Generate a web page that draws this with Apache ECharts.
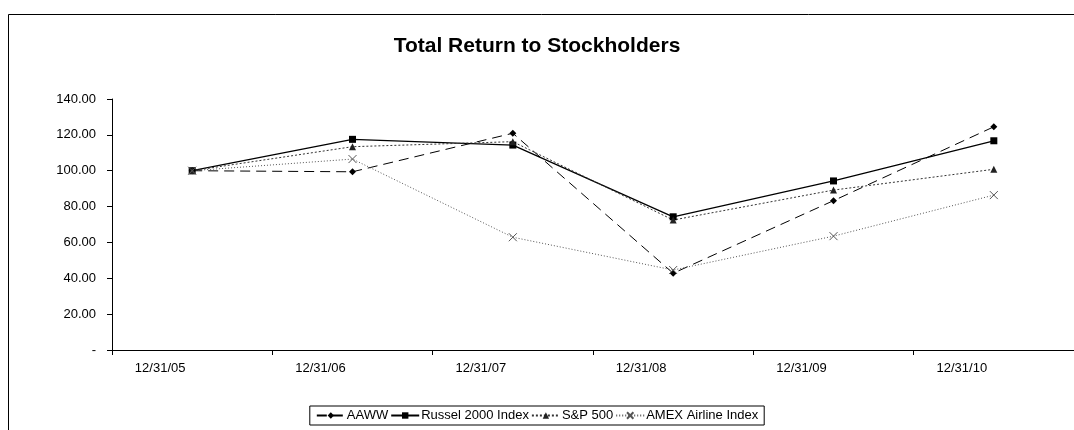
<!DOCTYPE html>
<html><head><meta charset="utf-8">
<script src="https://cdn.jsdelivr.net/npm/echarts@6/dist/echarts.min.js"></script>
<style>html,body{margin:0;padding:0;background:#fff}#c{width:1074px;height:430px}</style>
</head><body><div id="c"></div>
<script>
const categories = ['12/31/05','12/31/06','12/31/07','12/31/08','12/31/09','12/31/10'];
const aaww    = [100, 99.4, 120.9, 42.8, 83.3, 124.5];
const russell = [100, 117.5, 114.3, 74.3, 94.3, 116.7];
const sp500   = [100, 113.4, 116.2, 72.5, 89.2, 100.8];
const amex    = [100, 106.5, 62.9, 44.6, 63.5, 86.4];
const seriesNames = ['AAWW','Russel 2000 Index','S&P 500','AMEX Airline Index'];

const font = 'Liberation Sans, Arial, sans-serif';
const chart = echarts.init(document.getElementById('c'), null, {renderer:'canvas'});
const xPath = 'path://M0,0L10,10M10,0L0,10';
chart.setOption({
  animation:false,
  backgroundColor:'#fff',
  title:{text:'Total Return to Stockholders',left:'center',top:31,
    textStyle:{fontFamily:font,fontSize:21,fontWeight:'bold',color:'#000'}},
  graphic:[{type:'rect',shape:{x:8.5,y:14.5,width:1080,height:440},
    style:{fill:'none',stroke:'#000',lineWidth:1}}],
  grid:{left:112,right:-5,top:99,bottom:80},
  legend:{bottom:5,left:'center',itemGap:2,itemWidth:28,itemHeight:8,
    borderColor:'#000',borderWidth:1,borderRadius:0,padding:[3,6,3,6],
    textStyle:{fontFamily:font,fontSize:13,color:'#000',padding:[0,0,0,-3]},
    data:seriesNames},
  xAxis:{type:'category',data:categories,boundaryGap:true,
    axisLine:{lineStyle:{color:'#000',width:1}},
    axisTick:{show:true,inside:false,length:5,alignWithLabel:false,lineStyle:{color:'#000'}},
    axisLabel:{fontFamily:font,fontSize:13,color:'#000',margin:12,padding:[0,64,0,0]}},
  yAxis:{type:'value',min:0,max:140,interval:20,
    splitLine:{show:false},
    axisLine:{show:true,lineStyle:{color:'#000',width:1}},
    axisTick:{show:true,length:5,lineStyle:{color:'#000'}},
    axisLabel:{fontFamily:font,fontSize:13,color:'#000',margin:16,
      formatter:v=>v===0?'-':v.toFixed(2)}},
  series:[
    {name:seriesNames[0],type:'line',data:aaww,symbol:'diamond',symbolSize:7,
      lineStyle:{color:'#000',width:1,type:[10,6]},itemStyle:{color:'#000'}},
    {name:seriesNames[1],type:'line',data:russell,symbol:'rect',symbolSize:7,
      lineStyle:{color:'#000',width:1.3,type:'solid'},itemStyle:{color:'#000'}},
    {name:seriesNames[2],type:'line',data:sp500,symbol:'triangle',symbolSize:7,
      lineStyle:{color:'#333',width:1,type:[2,2]},itemStyle:{color:'#222'}},
    {name:seriesNames[3],type:'line',data:amex,symbol:xPath,symbolSize:8,
      lineStyle:{color:'#555',width:1,type:[1,2]},
      itemStyle:{color:'none',borderColor:'#555',borderWidth:1}}
  ]
});
</script></body></html>
